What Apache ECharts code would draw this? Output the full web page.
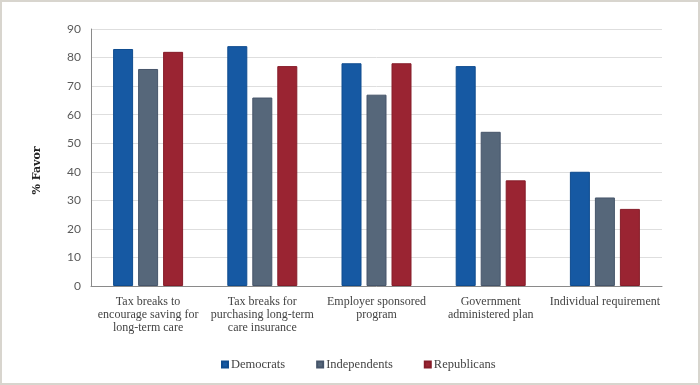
<!DOCTYPE html>
<html><head><meta charset="utf-8">
<script src="https://cdn.jsdelivr.net/npm/echarts@6/dist/echarts.min.js"></script>
<style>
html,body{margin:0;padding:0;background:#fff;}
#c{width:700px;height:385px;box-sizing:border-box;border:2px solid #d8d5ce;}
</style></head><body>
<div id="c"></div>
<script>
const categories = ["Tax breaks to\nencourage saving for\nlong-term care","Tax breaks for\npurchasing long-term\ncare insurance","Employer sponsored\nprogram","Government\nadministered plan","Individual requirement"];
const seriesNames = ["Democrats","Independents","Republicans"];
const democrats = [83,84,78,77,40];
const independents = [76,66,67,54,31];
const republicans = [82,77,78,37,27];
const colors = ["#1659a3","#56677a","#9a2432"];
const borders = ["#0f4c8f","#46556a","#861c29"];
const values = [democrats, independents, republicans];

const chart = echarts.init(document.getElementById('c'), null, {renderer:'canvas'});
chart.setOption({
  animation:false,
  backgroundColor:'#fff',
  grid:{left:89,right:36,top:27,bottom:97,containLabel:false},
  legend:{
    bottom:7,left:214,itemWidth:6,itemHeight:6,itemGap:31,icon:'rect',
    textStyle:{fontFamily:'Liberation Serif',fontSize:12.5,color:'#444',padding:[0,0,0,-2]},
    data:seriesNames
  },
  xAxis:{
    type:'category',data:categories,
    axisLine:{lineStyle:{color:'#8a8a8a',width:1}},
    axisTick:{show:false},
    axisLabel:{interval:0,fontFamily:'Liberation Serif',fontSize:12,color:'#444',lineHeight:13,margin:9}
  },
  yAxis:{
    type:'value',min:0,max:90,interval:10,
    name:'% Favor',nameLocation:'middle',nameGap:48,nameRotate:90,
    nameTextStyle:{fontFamily:'DejaVu Serif',fontWeight:'bold',fontSize:11,color:'#222',padding:[0,0,0,-26]},
    axisLine:{show:true,lineStyle:{color:'#8a8a8a',width:1}},
    axisTick:{show:false},
    splitLine:{lineStyle:{color:'#dedede',width:1}},
    axisLabel:{fontFamily:'Lato',fontSize:12,color:'#5a5a5a',margin:10}
  },
  series: seriesNames.map((n,i)=>({
    name:n,type:'bar',data:values[i],barWidth:20,barGap:'25%',
    itemStyle:{color:colors[i],borderColor:borders[i],borderWidth:1}
  }))
});
</script>
</body></html>
